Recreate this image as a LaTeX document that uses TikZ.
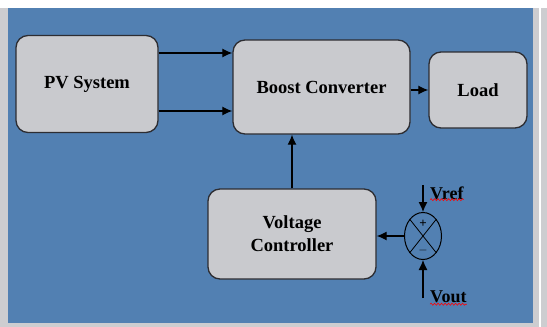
\documentclass[tikz,border=0pt]{standalone}
\usepackage{fontspec}
\setmainfont{Liberation Serif}
\usepackage{xcolor}
\usetikzlibrary{shapes.geometric, arrows.meta, positioning, decorations.pathmorphing}
\definecolor{panelblue}{RGB}{82,128,178}
\definecolor{boxgray}{RGB}{201,202,206}
\definecolor{edgegray}{RGB}{45,45,50}
\definecolor{framegray}{RGB}{205,205,208}

\begin{document}
\begin{tikzpicture}[x=1pt, y=-1pt,
  blk/.style={rectangle, draw=edgegray, line width=1.3pt, fill=boxgray,
              rounded corners=12pt, align=center,
              font=\bfseries\fontsize{18.5}{23}\selectfont},
  sumj/.style={ellipse, draw=black, line width=1pt, minimum width=37pt,
               minimum height=47pt, inner sep=0pt},
  lbl/.style={font=\bfseries\fontsize{18}{20}\selectfont, inner sep=0pt},
  arr/.style={-{Latex[length=10pt, width=9pt]}, line width=1.2pt},
  spell/.style={red, line width=0.6pt, decorate,
                decoration={snake, segment length=3.5pt, amplitude=1pt}}
]
\useasboundingbox (0,0) rectangle (547,327);
\fill[white] (0,0) rectangle (547,327);
\fill[framegray] (0,8) rectangle (547,327);
\fill[panelblue] (8,8) rectangle (533,323);
\draw[white, line width=1.5pt] (540,8) -- (540,327);

\node[blk, minimum width=142pt, minimum height=97pt] (pv) at (87,84) {PV System};
\node[blk, minimum width=177pt, minimum height=94pt] (boost) at (321.5,87) {Boost Converter};
\node[blk, minimum width=98pt, minimum height=76pt] (load) at (478,90) {Load};
\node[blk, minimum width=168pt, minimum height=90pt] (vc) at (292,234) {Voltage\\Controller};
\node[sumj] (sum) at (423,236) {};

\draw[line width=0.8pt] (sum.north west) -- (sum.south east);
\draw[line width=0.8pt] (sum.north east) -- (sum.south west);
\node[font=\bfseries\fontsize{13}{13}\selectfont, inner sep=0pt] (plus) at (423,224) {+};
\node[font=\bfseries\fontsize{13}{13}\selectfont, inner sep=0pt] (minus) at (423,250) {$-$};

\coordinate (vref) at (423,185);
\coordinate (vout) at (423,298);
\node[lbl, anchor=west] (vreftxt) at (430,193) {Vref};
\node[lbl, anchor=west] (vouttxt) at (430,297) {Vout};
\draw[spell] (vreftxt.south west) -- (vreftxt.south east);
\draw[spell] ([yshift=-1pt]vouttxt.south west) -- ([yshift=-1pt]vouttxt.south east);

\draw[arr] (pv.east |- 0,53) -- (boost.west |- 0,53);
\draw[arr] (pv.east |- 0,111) -- (boost.west |- 0,111);
\draw[arr] (boost.east |- 0,90) -- (load.west |- 0,90);
\draw[arr] (vc.north) -- (vc.north |- boost.south);
\draw[arr] (sum.west) -- (vc.east |- sum.west);
\draw[arr] (vref) -- (sum.north);
\draw[arr] (vout) -- (sum.south);
\end{tikzpicture}
\end{document}
